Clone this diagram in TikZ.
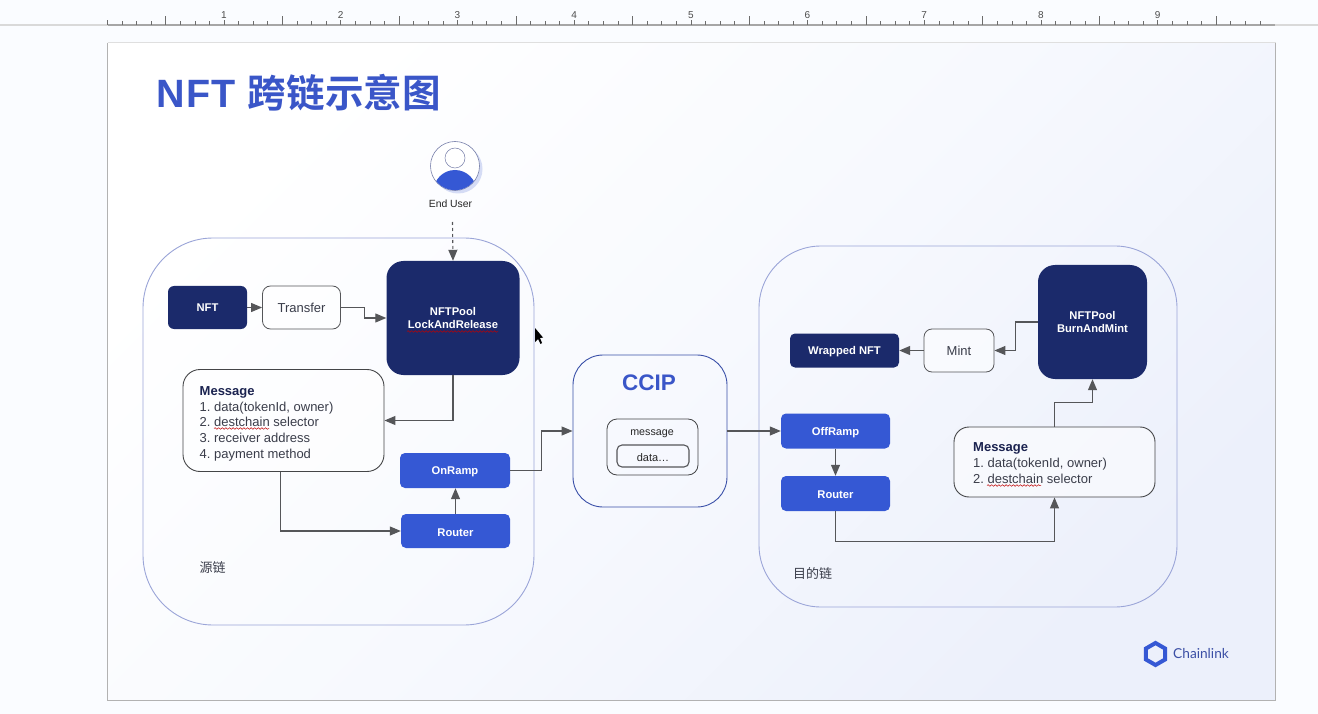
\documentclass[tikz,border=0pt]{standalone}
\usepackage{fontspec}
\setmainfont{Liberation Sans}
\newfontfamily\cjk{Noto Sans CJK SC}[BoldFont={Noto Sans CJK SC Bold}]
\newfontfamily\logofont{Lato}
\usetikzlibrary{arrows.meta,shapes.geometric,decorations.pathmorphing,calc}
\definecolor{navy}{HTML}{1B2A6B}
\definecolor{cblue}{HTML}{3558D4}
\definecolor{tblue}{HTML}{3A56C8}
\definecolor{conn}{HTML}{555659}
\definecolor{region}{HTML}{9BA5D8}
\definecolor{inktext}{HTML}{3A3D4A}
\definecolor{msghead}{HTML}{1B2350}
\newcommand{\lowered}[1]{\raisebox{-1.4pt}[\height][\depth]{#1}}
\tikzset{
  x=1pt,y=-1pt,
  darkbox/.style={fill=navy,text=white,font=\bfseries\fontsize{11.2}{13.5}\selectfont,align=center,inner sep=0pt},
  bluebox/.style={fill=cblue,text=white,font=\bfseries\fontsize{11.2}{13}\selectfont,align=center,inner sep=0pt,rounded corners=5pt},
  lightbox/.style={draw=conn,line width=.8pt,fill=white,fill opacity=.5,text opacity=1,text=inktext,font=\fontsize{13}{15}\selectfont,inner sep=0pt,rounded corners=8pt},
  regionbox/.style={draw=region,line width=.9pt,inner sep=0pt},
  msgbox/.style={draw=conn!80!black,line width=.9pt,fill=white,fill opacity=.5,text opacity=1,inner sep=0pt},
  msgtext/.style={anchor=west,align=left,inner sep=0pt,text=inktext,font=\fontsize{13}{15.7}\selectfont},
  conline/.style={draw=conn,line width=1.1pt,-{Triangle[length=11pt,width=9pt]}},
  squig/.style={draw=red!75!black,line width=.5pt,decorate,decoration={snake,amplitude=.8pt,segment length=3.6pt}},
  tick/.style={draw=gray!85!black,line width=.6pt},
  caption/.style={inner sep=0pt,text=inktext,font=\cjk\fontsize{13}{15}\selectfont},
}
\begin{document}
\frenchspacing
\begin{tikzpicture}
\useasboundingbox (0,0) rectangle (1318,714);
\fill[fill={rgb,255:red,250;green,252;blue,255}] (0,0) rectangle (1318,714);
% ruler
\draw[draw=gray!30,line width=1.2pt] (0,25) -- (1318,25);
\draw[draw=gray!70,line width=1.2pt] (108,25) -- (1275,25);
\foreach \i in {0,...,79}{
  \pgfmathsetmacro{\xx}{224+\i*14.59-14.59*8}
  \pgfmathtruncatemacro{\md}{mod(\i+16,8)}
  \pgfmathtruncatemacro{\mh}{mod(\i+16,4)}
  \ifnum\md=0 \draw[tick] (\xx,25) -- (\xx,20.5);
  \else\ifnum\mh=0 \draw[tick] (\xx,25) -- (\xx,16.5);
  \else \draw[tick] (\xx,25) -- (\xx,21.5);
  \fi\fi
}
\foreach \d in {1,...,9}{
  \pgfmathsetmacro{\xx}{224+(\d-1)*116.7}
  \node[inner sep=0pt,text=black!70,font=\fontsize{10}{12}\selectfont] (rul\d) at (\xx,15) {\d};
}
% page
\shade[bottom color=white,top color={rgb,255:red,236;green,240;blue,251},middle color={rgb,255:red,247;green,249;blue,254},shading angle=225] (107.5,43) rectangle (1275.5,700);
\draw[draw=gray!25,line width=1pt] (107.5,43) -- (1275.5,43);
\draw[draw=gray!60,line width=.8pt] (107.5,43) -- (107.5,700) -- (1275.5,700) -- (1275.5,43);
% title
\node[anchor=west,inner sep=0pt,text=tblue] (title) at (156.5,93) {\fontsize{39.5}{44}\selectfont\bfseries\addfontfeature{LetterSpace=3}NFT\hspace{12pt}{\cjk\fontsize{38.6}{44}\selectfont\bfseries 跨链示意图}};
% regions
\node[regionbox,rounded corners=70pt,minimum width=391pt,minimum height=387pt] (src) at (338.5,431.5) {};
\node[regionbox,rounded corners=62pt,minimum width=418pt,minimum height=361pt] (dst) at (968,426.5) {};
\node[draw={rgb,255:red,58;green,80;blue,168},line width=.9pt,rounded corners=30pt,inner sep=0pt,minimum width=154pt,minimum height=152pt] (ccip) at (650,431) {};
% user
\fill[fill={rgb,255:red,213;green,220;blue,245}] (458,169) circle (24.5);
\node[circle,draw={rgb,255:red,120;green,128;blue,170},fill=white,line width=.6pt,minimum size=49pt,inner sep=0pt] (user) at (455,166) {};
\begin{scope}
\clip (455,166) circle (24.2);
\fill[cblue] (455,191.5) circle (21.5);
\end{scope}
\node[circle,draw={rgb,255:red,120;green,128;blue,170},line width=.5pt,minimum size=20pt,inner sep=0pt] (head) at (455,158) {};
\node[inner sep=0pt,text=black!85,font=\fontsize{10.4}{12}\selectfont] (enduser) at (450.5,203.5) {End User};
% source chain
\node[darkbox,rounded corners=6pt,minimum width=79pt,minimum height=43pt] (nft) at (207.5,307.5) {NFT};
\node[lightbox,minimum width=78pt,minimum height=43pt] (transfer) at (301.5,307.5) {Transfer};
\node[darkbox,rounded corners=17pt,minimum width=133pt,minimum height=114pt] (lock) at (453,318) {NFTPool\\LockAndRelease};
\node[msgbox,rounded corners=17pt,minimum width=201pt,minimum height=102pt] (msg) at (283.5,420.5) {};
\node[msgtext] (msgt) at (199.5,423.6) {{\bfseries\color{msghead}Message}\\1. data(tokenId, owner)\\2. destchain selector\\3. receiver address\\4. payment method};
\node[bluebox,minimum width=110pt,minimum height=35pt] (onramp) at (455,470.5) {\lowered{OnRamp}};
\node[bluebox,minimum width=109pt,minimum height=34pt] (router) at (455.5,531) {\lowered{Router}};
\node[caption] (srclabel) at (212.5,567.5) {源链};
% ccip
\node[inner sep=0pt,text=tblue,font=\bfseries\fontsize{22.5}{25}\selectfont] (ccipt) at (649,383) {CCIP};
\node[draw=conn!80!black,line width=.8pt,rounded corners=10pt,inner sep=0pt,minimum width=91pt,minimum height=56pt] (msgc) at (652.5,447) {};
\node[inner sep=0pt,text=black!85,font=\fontsize{10.7}{12}\selectfont] (msgl) at (652,433.5) {message};
\node[draw=conn,line width=1.1pt,rounded corners=5pt,inner sep=0pt,text=black!85,font=\fontsize{11}{12}\selectfont,minimum width=72pt,minimum height=22pt] (datab) at (653,456) {\lowered{data…}};
% destination chain
\node[bluebox,minimum width=109pt,minimum height=35pt] (offramp) at (835.5,431) {\lowered{OffRamp}};
\node[bluebox,minimum width=109pt,minimum height=35pt] (router2) at (835.5,493.5) {\lowered{Router}};
\node[darkbox,rounded corners=5pt,minimum width=109pt,minimum height=34pt] (wrapped) at (844.5,350.5) {\lowered{Wrapped NFT}};
\node[lightbox,minimum width=70pt,minimum height=43pt] (mint) at (959,350.5) {Mint};
\node[darkbox,rounded corners=17pt,minimum width=109pt,minimum height=114pt] (pool2) at (1092.5,322) {NFTPool\\BurnAndMint};
\node[msgbox,rounded corners=15pt,minimum width=201pt,minimum height=70pt] (msg2) at (1054.5,462) {};
\node[msgtext] (msg2t) at (973,463) {{\bfseries\color{msghead}Message}\\1. data(tokenId, owner)\\2. destchain selector};
\node[caption] (dstlabel) at (812.5,573.5) {目的链};
% spell-check squiggles
\draw[squig] (407,331.5) -- (498,331.5);
\draw[squig] (214,428.5) -- (269,428.5);
\draw[squig] (987,485.5) -- (1041,485.5);
% connectors
\coordinate (userend) at (452.5,222);
\draw[conline,dashed] (userend) -- (lock.north);
\draw[conline] (nft.east) -- (transfer.west);
\draw[conline] (transfer.east) -- ++(24,0) |- (lock.west);
\draw[conline] (lock.south) |- (msg.east);
\draw[conline] ([xshift=-3pt]msg.south) |- (router.west);
\draw[conline] (router.north) -- ([xshift=.5pt]onramp.south);
\draw[conline] (onramp.east) -- ++(31,0) |- (ccip.west);
\draw[conline] (ccip.east) -- (offramp.west);
\draw[conline] (offramp.south) -- (router2.north);
\draw[conline] (router2.south) -- ++(0,30) -| (msg2.south);
\draw[conline] (msg2.north) -- ++(0,-24.5) -| (pool2.south);
\draw[conline] (pool2.west) -- ++(-22,0) |- (mint.east);
\draw[conline] (mint.west) -- (wrapped.east);
% cursor
\fill[black] (535,328) -- (535,342) -- (538,339) -- (540.5,344) -- (542,343) -- (540,338) -- (543,337.5) -- cycle;
% logo
\node[regular polygon,regular polygon sides=6,shape border rotate=90,draw=cblue,line width=4pt,minimum size=22pt,inner sep=0pt] (hex) at (1155.5,654) {};
\node[anchor=west,inner sep=0pt,text={rgb,255:red,59;green,79;blue,165},font=\logofont\fontsize{13.7}{15}\selectfont] (chainlink) at (1173,654) {Chainlink};
\end{tikzpicture}
\end{document}
